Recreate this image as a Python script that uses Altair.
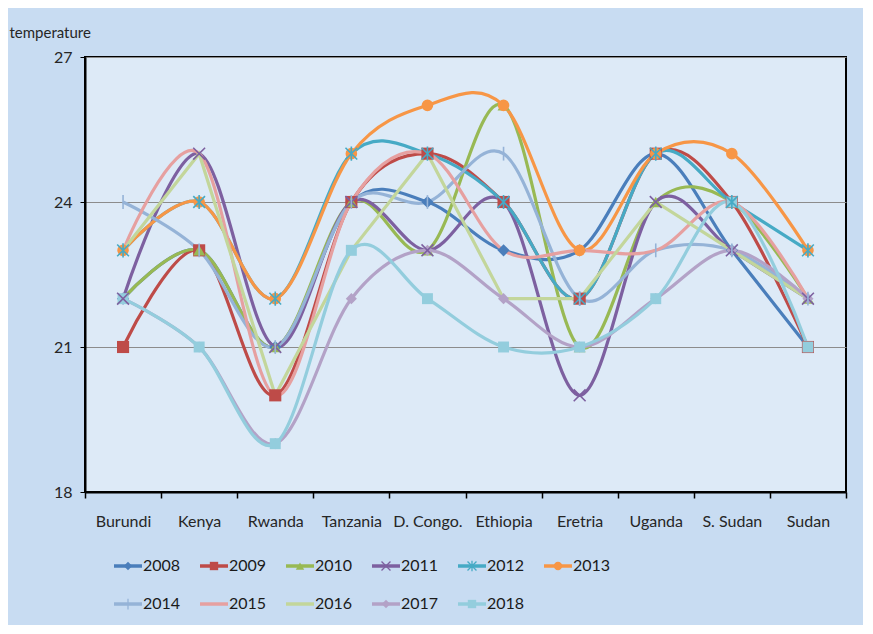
import altair as alt
import pandas as pd

countries = ["Burundi", "Kenya", "Rwanda", "Tanzania", "D. Congo.", "Ethiopia",
             "Eretria", "Uganda", "S. Sudan", "Sudan"]
years = ["2008", "2009", "2010", "2011", "2012", "2013", "2014", "2015", "2016", "2017", "2018"]

t2008 = [22, 23, 21, 24, 24, 23, 23, 25, 23, 21]
t2009 = [21, 23, 20, 24, 25, 24, 22, 25, 24, 21]
t2010 = [22, 23, 21, 24, 23, 26, 21, 24, 24, 22]
t2011 = [22, 25, 21, 24, 23, 24, 20, 24, 23, 22]
t2012 = [23, 24, 22, 25, 25, 24, 22, 25, 24, 23]
t2013 = [23, 24, 22, 25, 26, 26, 23, 25, 25, 23]
t2014 = [24, 23, 21, 24, 24, 25, 22, 23, 23, 22]
t2015 = [23, 25, 20, 24, 25, 23, 23, 23, 24, 22]
t2016 = [23, 25, 20, 23, 25, 22, 22, 24, 23, 22]
t2017 = [22, 21, 19, 22, 23, 22, 21, 22, 23, 22]
t2018 = [22, 21, 19, 23, 22, 21, 21, 22, 24, 21]
series = [t2008, t2009, t2010, t2011, t2012, t2013, t2014, t2015, t2016, t2017, t2018]

colors = ["#4A7EBB", "#BE4B48", "#98B954", "#7D60A0", "#46AAC5", "#F79646",
          "#95B3D7", "#E6A0A0", "#C3D69B", "#B3A2C7", "#93CDDD"]

X_PATH = "M-1,-1L1,1M-1,1L1,-1"
STAR_PATH = "M-1,-1L1,1M-1,1L1,-1M0,-1.2L0,1.2"
PLUS_PATH = "M0,-1.2L0,1.2"
shapes = ["diamond", "square", "triangle-up", X_PATH, STAR_PATH, "circle",
          PLUS_PATH, "circle", "circle", "diamond", "square"]
sizes = [150, 120, 130, 140, 140, 190, 150, 10, 10, 130, 150]

filled_years = ["2008", "2009", "2010", "2013", "2017", "2018"]
stroked_years = ["2011", "2012", "2014"]

rows = []
for y, vals in zip(years, series):
    for c, v in zip(countries, vals):
        rows.append({"year": y, "country": c, "temp": v})
df = pd.DataFrame(rows)

FONT = "Lato"
TXT = "#262626"

color_scale = alt.Scale(domain=years, range=colors)
shape_scale = alt.Scale(domain=years, range=shapes)
size_scale = alt.Scale(domain=years, range=sizes)

base = alt.Chart(df).encode(
    x=alt.X("country:N", sort=countries,
            axis=alt.Axis(title=None, labelAngle=0, tickBand="extent",
                          domainColor="black", domainWidth=2, tickColor="black",
                          tickSize=6, tickWidth=1.5, labelFontSize=16, labelColor=TXT,
                          labelFont=FONT, labelPadding=15, grid=False)),
    y=alt.Y("temp:Q", scale=alt.Scale(domain=[18, 27], nice=False, zero=False),
            axis=alt.Axis(values=[18, 21, 24, 27], title="temperature", titleAngle=0,
                          titleAlign="left", titleBaseline="middle", titleX=-76, titleY=-25,
                          titleFontSize=15, titleFontWeight="normal", titleColor=TXT,
                          titleFont=FONT, labelFontSize=16, labelColor=TXT, labelFont=FONT,
                          labelPadding=8, domainColor="black", domainWidth=2,
                          tickColor="black", tickSize=5, grid=True, gridColor="#8C8C8C",
                          gridWidth=1.2)),
    color=alt.Color("year:N", scale=color_scale, legend=None),
)

lines_a = base.transform_filter(
    alt.FieldOneOfPredicate(field="year", oneOf=years[:8])
).mark_line(interpolate="cardinal", strokeWidth=3.2)
lines_b = base.transform_filter(alt.datum.year == "2016").mark_line(strokeWidth=3.2)
lines_c = base.transform_filter(
    alt.FieldOneOfPredicate(field="year", oneOf=["2017", "2018"])
).mark_line(interpolate="cardinal", strokeWidth=3.2)

pts_f = base.transform_filter(
    alt.FieldOneOfPredicate(field="year", oneOf=filled_years)
).mark_point(filled=True, opacity=1).encode(
    shape=alt.Shape("year:N", scale=shape_scale, legend=None),
    size=alt.Size("year:N", scale=size_scale, legend=None),
)
pts_s = base.transform_filter(
    alt.FieldOneOfPredicate(field="year", oneOf=stroked_years)
).mark_point(filled=False, opacity=1, strokeWidth=1.6).encode(
    shape=alt.Shape("year:N", scale=shape_scale, legend=None),
    size=alt.Size("year:N", scale=size_scale, legend=None),
)

top = alt.layer(lines_a, lines_b, lines_c, pts_f, pts_s).properties(
    width=761, height=435,
    view=alt.ViewBackground(fill="#DDEAF7", stroke="black", strokeWidth=2),
)

# legend panel
leg_rows = []
for i, y in enumerate(years):
    leg_rows.append({"year": y, "col": i % 6, "row": i // 6})
leg_df = pd.DataFrame(leg_rows)

lx = alt.X("col:Q", scale=alt.Scale(domain=[-0.5, 8.349], nice=False, zero=False), axis=None)
ly = alt.Y("row:Q", scale=alt.Scale(domain=[-0.658, 1.447], nice=False, zero=False, reverse=True), axis=None)

lbase = alt.Chart(leg_df).encode(
    x=lx, y=ly,
    color=alt.Color("year:N", scale=color_scale, legend=None),
)
lrule = lbase.mark_rule(strokeWidth=3.5, xOffset=-14, x2Offset=14).encode(x2="col:Q")
lpts_f = lbase.transform_filter(
    alt.FieldOneOfPredicate(field="year", oneOf=filled_years)
).mark_point(filled=True, opacity=1, size=70).encode(
    shape=alt.Shape("year:N", scale=shape_scale, legend=None))
lpts_s = lbase.transform_filter(
    alt.FieldOneOfPredicate(field="year", oneOf=stroked_years)
).mark_point(filled=False, opacity=1, size=80, strokeWidth=1.3).encode(
    shape=alt.Shape("year:N", scale=shape_scale, legend=None))
ltext = alt.Chart(leg_df).mark_text(
    align="left", baseline="middle", dx=15, fontSize=16, font=FONT
).encode(
    x=lx, y=ly,
    text="year:N",
    color=alt.value("#1A1A1A"),
)

legend = alt.layer(lrule, lpts_f, lpts_s, ltext).properties(
    width=761, height=80,
    view=alt.ViewBackground(fill="transparent", strokeWidth=0),
)

chart = alt.vconcat(top, legend, spacing=11).properties(
    background="#C8DCF2",
    padding={"left": 0, "top": 16, "right": 15, "bottom": 4},
).resolve_scale(color="shared", shape="shared")

chart.save("out.html", embed_options={"renderer": "svg", "actions": False})
